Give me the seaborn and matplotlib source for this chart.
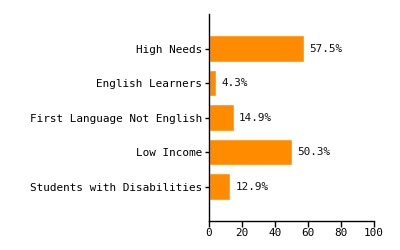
import numpy as np
import pandas as pd
import matplotlib
matplotlib.use("Agg")
import matplotlib.pyplot as plt
import seaborn as sns

groups = ["High Needs", "English Learners", "First Language Not English",
          "Low Income", "Students with Disabilities"]
percents = [57.5, 4.3, 14.9, 50.3, 12.9]
x_ticks = [0, 20, 40, 60, 80, 100]

df = pd.DataFrame({"Group": groups, "Percent": percents})

sns.set_theme(style="ticks")
plt.rcParams['font.family'] = ['DejaVu Sans Mono', 'DejaVu Sans']

fig = plt.figure(figsize=(4, 2.5), dpi=100)
ax = fig.add_axes([0.5225, 0.116, 0.4125, 0.828])

sns.barplot(data=df, x="Percent", y="Group", color="#FF8C00", saturation=1,
            width=0.78, orient="h", ax=ax)

for i, v in enumerate(percents):
    ax.annotate(f"{v}%", xy=(v, i), xytext=(3.6, 0), textcoords="offset points",
                va="center", ha="left", fontsize=7.9, color="#111111")

ax.set_xlim(0, 100)
ax.set_ylim(len(groups), -1)
ax.set_xticks(x_ticks)
ax.set_xlabel("")
ax.set_ylabel("")
ax.tick_params(axis="x", length=4, width=1, labelsize=7.9, colors="black", pad=1)
ax.tick_params(axis="y", length=3, width=1, labelsize=7.9, colors="black", pad=2)
for s in ["top", "right"]:
    ax.spines[s].set_visible(False)
for s in ["left", "bottom"]:
    ax.spines[s].set_color("black")
    ax.spines[s].set_linewidth(1)

fig.savefig("out.png", dpi=100)
